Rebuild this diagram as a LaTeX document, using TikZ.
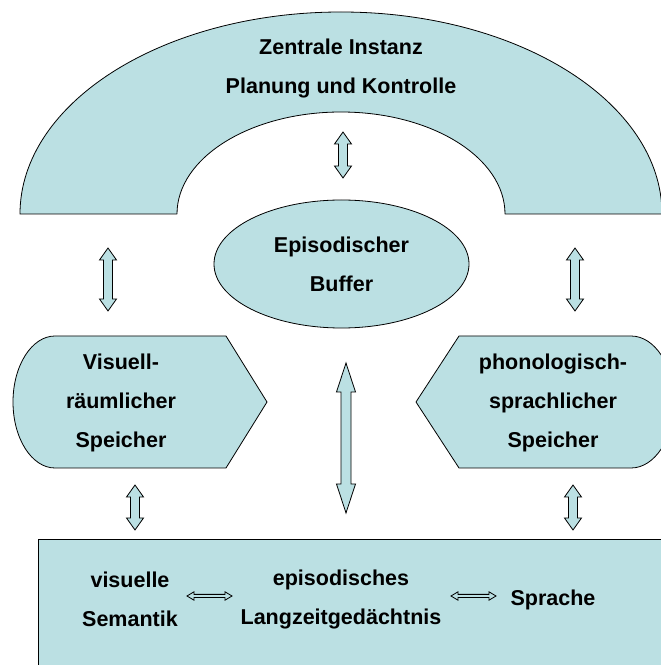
\documentclass[tikz,border=0pt]{standalone}
\usepackage{fontspec}
\setmainfont{Liberation Sans}
\usetikzlibrary{calc,shapes.geometric}
\definecolor{boxfill}{RGB}{187,224,227}
\tikzset{
  shapeline/.style={draw=black, line width=0.8pt, fill=boxfill, line join=round},
  lbl/.style={font=\bfseries\fontsize{21.5}{39}\selectfont, align=center, inner sep=0pt},
  blockarrow/.style={draw=black, line width=0.8pt, fill=boxfill, line join=miter},
}
\newcommand\dblarrow[5]{%
  \draw[blockarrow] (#1) -- ($(#1)!#5!(#2)!#4!90:(#2)$) -- ($(#1)!#5!(#2)!#3!90:(#2)$)
   -- ($(#2)!#5!(#1)!#3!-90:(#1)$) -- ($(#2)!#5!(#1)!#4!-90:(#1)$) -- (#2)
   -- ($(#2)!#5!(#1)!#4!90:(#1)$) -- ($(#2)!#5!(#1)!#3!90:(#1)$)
   -- ($(#1)!#5!(#2)!#3!-90:(#2)$) -- ($(#1)!#5!(#2)!#4!-90:(#2)$) -- cycle;}
\begin{document}
\begin{tikzpicture}[x=1pt,y=1pt]
\useasboundingbox (0,0) rectangle (661,665);
\clip (0,0) rectangle (661,665);
% arch: Zentrale Instanz
\draw[shapeline] (20,451) arc[start angle=180, end angle=0, x radius=321pt, y radius=202pt]
  -- (505,451) arc[start angle=0, end angle=180, x radius=164pt, y radius=102pt] -- cycle;
\node[lbl] (zi) at (341,618) {Zentrale Instanz};
\node[lbl] (pk) at (341,577) {Planung und Kontrolle};
% episodic buffer
\node[shapeline, ellipse, minimum width=255pt, minimum height=128pt, lbl] (buf) at (341.5,401) {Episodischer\\Buffer};
% left store
\draw[shapeline] (55,329) -- (226,329) -- (267,263) -- (226,197) -- (55,197)
  arc[start angle=270, end angle=90, x radius=42pt, y radius=66pt] -- cycle;
\node[lbl] (vis) at (121,262) {Visuell-\\räumlicher\\Speicher};
% right store
\draw[shapeline] (459,329) -- (631,329)
  arc[start angle=90, end angle=-90, x radius=43pt, y radius=66pt]
  -- (459,197) -- (416,263) -- cycle;
\node[lbl] (pho) at (553,262) {phonologisch-\\sprachlicher\\Speicher};
% long-term memory box
\draw[shapeline] (38,-10) rectangle (690,126);
\node[lbl] (sem) at (130,66) {visuelle\\Semantik};
\node[lbl] (ltm) at (341,66) {episodisches\\Langzeitgedächtnis};
\node[lbl] (spr) at (553,65) {Sprache};
% arrow end points
\coordinate (a1t) at (343,533); \coordinate (a1b) at (343,487);
\coordinate (a2t) at (108,417); \coordinate (a2b) at (108,354);
\coordinate (a3t) at (575,417); \coordinate (a3b) at (575,354);
\coordinate (a4t) at (346,302); \coordinate (a4b) at (346,152);
\coordinate (a5t) at (135,180); \coordinate (a5b) at (135,135);
\coordinate (a6t) at (573,180); \coordinate (a6b) at (573,135);
\coordinate (h1l) at (187,69); \coordinate (h1r) at (232,69);
\coordinate (h2l) at (451,69); \coordinate (h2r) at (496,69);
\dblarrow{a1t}{a1b}{4.5pt}{8.5pt}{12pt}
\dblarrow{a2t}{a2b}{4.5pt}{8.5pt}{12pt}
\dblarrow{a3t}{a3b}{4.5pt}{8.5pt}{12pt}
\dblarrow{a4t}{a4b}{5pt}{9.5pt}{29pt}
\dblarrow{a5t}{a5b}{4.5pt}{8.5pt}{12pt}
\dblarrow{a6t}{a6b}{4.5pt}{8.5pt}{12pt}
\dblarrow{h1l}{h1r}{1.6pt}{4.2pt}{7pt}
\dblarrow{h2l}{h2r}{1.6pt}{4.2pt}{7pt}
\end{tikzpicture}
\end{document}
